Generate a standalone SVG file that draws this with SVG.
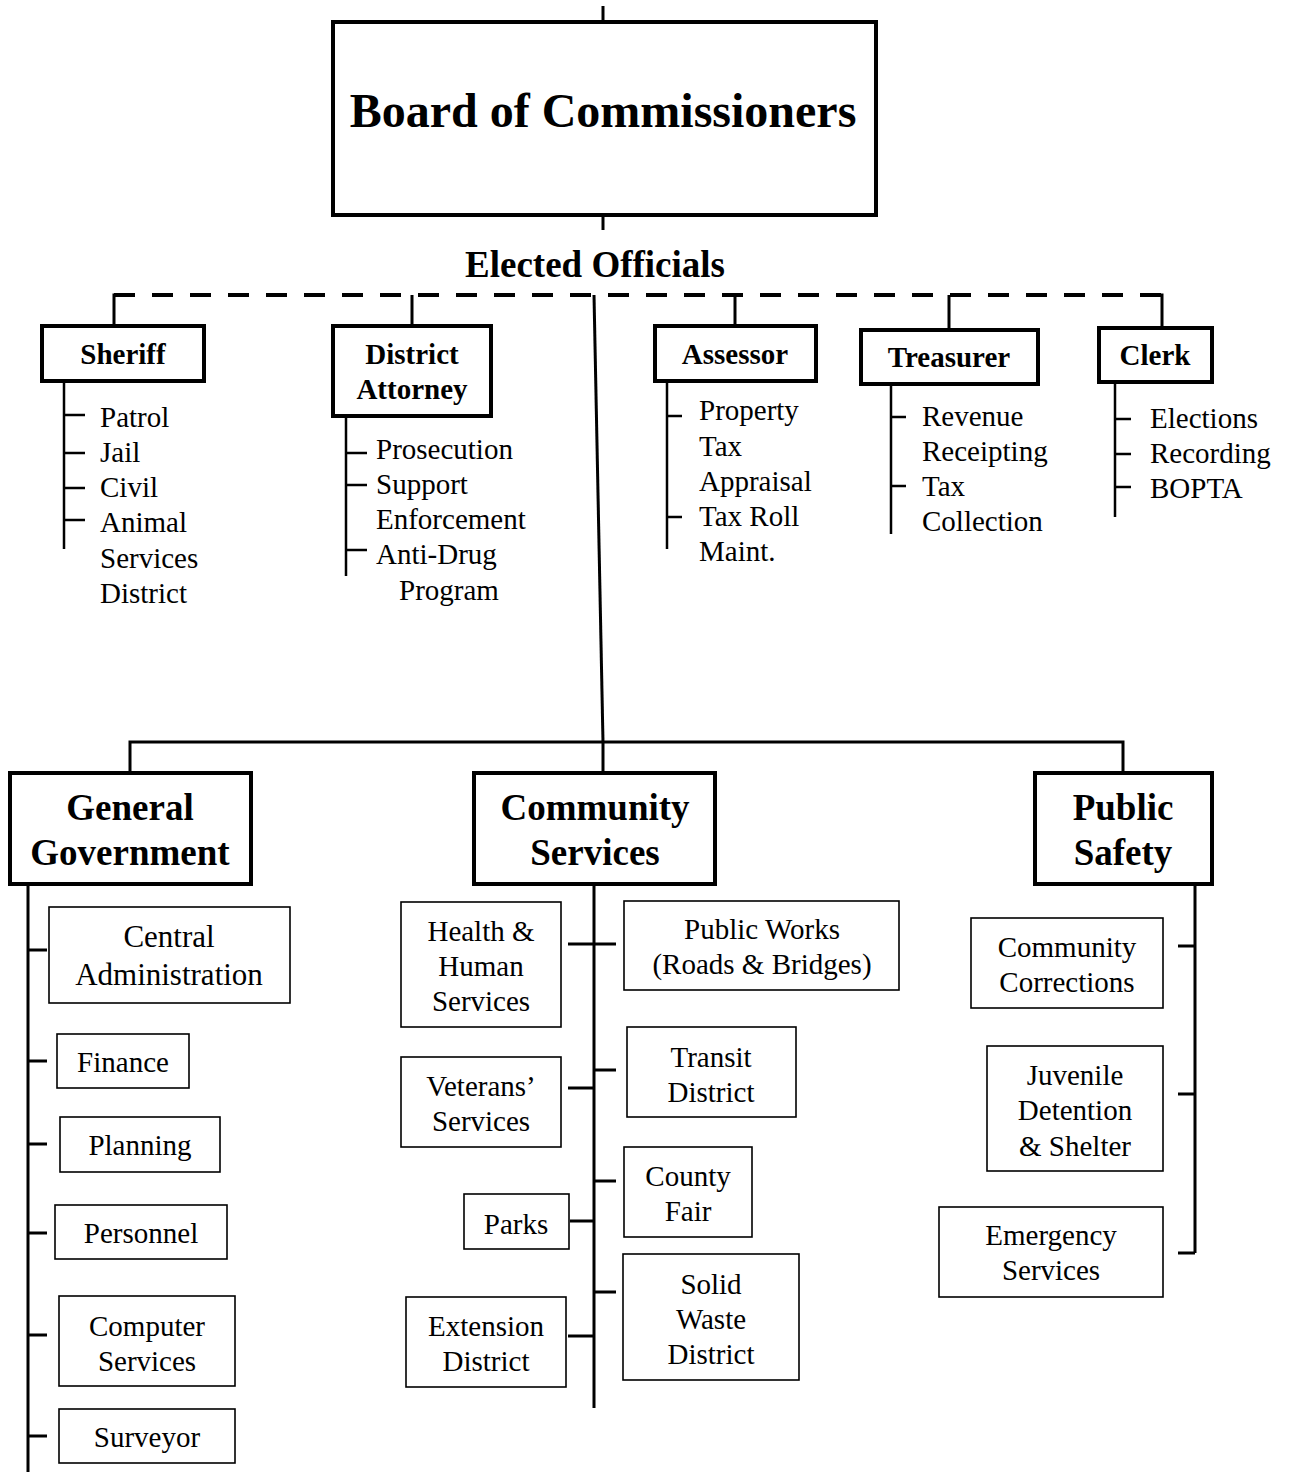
<svg xmlns="http://www.w3.org/2000/svg" width="1289" height="1472" viewBox="0 0 1289 1472">
<style>
text{font-family:"Liberation Serif","Times New Roman",serif;fill:#000}
.b{font-weight:bold}
.m{text-anchor:middle}
.t29{font-size:29px}
.t31{font-size:31px}
.h29{font-size:29px;font-weight:bold}
.h37{font-size:37px;font-weight:bold}
.box4{fill:#fff;stroke:#000;stroke-width:4}
.box1{fill:#fff;stroke:#000;stroke-width:1.6}
.ln{stroke:#000;stroke-width:3;fill:none}
.ln2{stroke:#000;stroke-width:2.5;fill:none}
.dash{stroke:#000;stroke-width:4;fill:none;stroke-dasharray:21 17}
</style>
<rect width="1289" height="1472" fill="#fff"/>
<g id="connectors">
<line class="ln" x1="603" y1="6" x2="603" y2="22"/>
<line class="ln" x1="603" y1="215" x2="603" y2="230"/>
<path class="dash" d="M114 295 H1162"/>
<path class="ln" d="M114 327 V295 H124"/>
<path class="ln" d="M1150 295 H1162 V328"/>
<line class="ln" x1="412" y1="295" x2="412" y2="326"/>
<line class="ln" x1="735" y1="295" x2="735" y2="326"/>
<line class="ln" x1="949" y1="295" x2="949" y2="329"/>
<line class="ln" x1="594" y1="295" x2="603" y2="742"/>
<line class="ln" x1="603" y1="742" x2="603" y2="773"/>
<path class="ln" d="M130 773 V742 H1123 V773"/>
<!-- Sheriff list -->
<path class="ln2" d="M64 382 V549 M64 415 H85 M64 453 H85 M64 488 H85 M64 520 H85"/>
<!-- DA list -->
<path class="ln2" d="M346 417 V576 M346 453 H367 M346 485 H367 M346 550 H367"/>
<!-- Assessor list -->
<path class="ln2" d="M667 382 V549 M667 416 H682 M667 517 H682"/>
<!-- Treasurer list -->
<path class="ln2" d="M891 385 V534 M891 417 H906 M891 486 H906"/>
<!-- Clerk list -->
<path class="ln2" d="M1115 384 V517 M1115 419 H1131 M1115 454 H1131 M1115 487 H1131"/>
<!-- General Government -->
<path class="ln" d="M28 884 V1472 M28 950 H47 M28 1061 H47 M28 1144 H47 M28 1233 H47 M28 1335 H47 M28 1436 H47"/>
<!-- Community Services -->
<path class="ln" d="M594 884 V1408 M568 944 H616 M568 1088 H594 M594 1070 H616 M594 1181 H616 M570 1221 H594 M594 1292 H616 M568 1336 H594"/>
<!-- Public Safety -->
<path class="ln" d="M1195 884 V1253 M1178 946 H1195 M1178 1094 H1195 M1178 1253 H1195"/>
</g>
<g id="board"><rect class="box4" x="333" y="22" width="543" height="193"/><text class="b m" x="603" y="127" font-size="48">Board of Commissioners</text></g>
<g id="elected"><text class="b m" x="595" y="277" font-size="37">Elected Officials</text></g>
<g id="sheriff"><rect class="box4" x="42" y="326" width="162" height="55"/><text class="h29 m" x="123" y="364">Sheriff</text>
<text class="t29" x="100" y="427">Patrol</text><text class="t29" x="100" y="462">Jail</text><text class="t29" x="100" y="497">Civil</text><text class="t29" x="100" y="532">Animal</text><text class="t29" x="100" y="568">Services</text><text class="t29" x="100" y="603">District</text></g>
<g id="da"><rect class="box4" x="333" y="326" width="158" height="90"/><text class="h29 m" x="412" y="364">District</text><text class="h29 m" x="412" y="399">Attorney</text>
<text class="t29" x="376" y="459">Prosecution</text><text class="t29" x="376" y="494">Support</text><text class="t29" x="376" y="529">Enforcement</text><text class="t29" x="376" y="564">Anti-Drug</text><text class="t29" x="399" y="600">Program</text></g>
<g id="assessor"><rect class="box4" x="655" y="326" width="161" height="55"/><text class="h29 m" x="735" y="364">Assessor</text>
<text class="t29" x="699" y="420">Property</text><text class="t29" x="699" y="456">Tax</text><text class="t29" x="699" y="491">Appraisal</text><text class="t29" x="699" y="526">Tax Roll</text><text class="t29" x="699" y="561">Maint.</text></g>
<g id="treasurer"><rect class="box4" x="861" y="330" width="177" height="54"/><text class="h29 m" x="949" y="367">Treasurer</text>
<text class="t29" x="922" y="426">Revenue</text><text class="t29" x="922" y="461">Receipting</text><text class="t29" x="922" y="496">Tax</text><text class="t29" x="922" y="531">Collection</text></g>
<g id="clerk"><rect class="box4" x="1099" y="328" width="113" height="54"/><text class="h29 m" x="1155" y="365">Clerk</text>
<text class="t29" x="1150" y="428">Elections</text><text class="t29" x="1150" y="463">Recording</text><text class="t29" x="1150" y="498">BOPTA</text></g>
<g id="general-government"><rect class="box4" x="10" y="773" width="241" height="111"/><text class="h37 m" x="130" y="820">General</text><text class="h37 m" x="130" y="865">Government</text></g>
<g id="central-admin"><rect class="box1" x="49" y="907" width="241" height="96"/><text class="t31 m" x="169" y="947">Central</text><text class="t31 m" x="169" y="985">Administration</text></g>
<g id="finance"><rect class="box1" x="57" y="1034" width="132" height="54"/><text class="t29 m" x="123" y="1072">Finance</text></g>
<g id="planning"><rect class="box1" x="60" y="1117" width="160" height="55"/><text class="t29 m" x="140" y="1155">Planning</text></g>
<g id="personnel"><rect class="box1" x="55" y="1205" width="172" height="54"/><text class="t29 m" x="141" y="1243">Personnel</text></g>
<g id="computer-services"><rect class="box1" x="59" y="1296" width="176" height="90"/><text class="t29 m" x="147" y="1336">Computer</text><text class="t29 m" x="147" y="1371">Services</text></g>
<g id="surveyor"><rect class="box1" x="59" y="1409" width="176" height="54"/><text class="t29 m" x="147" y="1447">Surveyor</text></g>
<g id="community-services"><rect class="box4" x="474" y="773" width="241" height="111"/><text class="h37 m" x="595" y="820">Community</text><text class="h37 m" x="595" y="865">Services</text></g>
<g id="hhs"><rect class="box1" x="401" y="902" width="160" height="125"/><text class="t29 m" x="481" y="941">Health &amp;</text><text class="t29 m" x="481" y="976">Human</text><text class="t29 m" x="481" y="1011">Services</text></g>
<g id="public-works"><rect class="box1" x="624" y="901" width="275" height="89"/><text class="t29 m" x="762" y="939">Public Works</text><text class="t29 m" x="762" y="974">(Roads &amp; Bridges)</text></g>
<g id="veterans"><rect class="box1" x="401" y="1057" width="160" height="90"/><text class="t29 m" x="481" y="1096">Veterans’</text><text class="t29 m" x="481" y="1131">Services</text></g>
<g id="transit"><rect class="box1" x="627" y="1027" width="169" height="90"/><text class="t29 m" x="711" y="1067">Transit</text><text class="t29 m" x="711" y="1102">District</text></g>
<g id="county-fair"><rect class="box1" x="624" y="1147" width="128" height="90"/><text class="t29 m" x="688" y="1186">County</text><text class="t29 m" x="688" y="1221">Fair</text></g>
<g id="parks"><rect class="box1" x="464" y="1194" width="105" height="55"/><text class="t29 m" x="516" y="1234">Parks</text></g>
<g id="solid-waste"><rect class="box1" x="623" y="1254" width="176" height="126"/><text class="t29 m" x="711" y="1294">Solid</text><text class="t29 m" x="711" y="1329">Waste</text><text class="t29 m" x="711" y="1364">District</text></g>
<g id="extension"><rect class="box1" x="406" y="1297" width="160" height="90"/><text class="t29 m" x="486" y="1336">Extension</text><text class="t29 m" x="486" y="1371">District</text></g>
<g id="public-safety"><rect class="box4" x="1035" y="773" width="177" height="111"/><text class="h37 m" x="1123" y="820">Public</text><text class="h37 m" x="1123" y="865">Safety</text></g>
<g id="community-corrections"><rect class="box1" x="971" y="918" width="192" height="90"/><text class="t29 m" x="1067" y="957">Community</text><text class="t29 m" x="1067" y="992">Corrections</text></g>
<g id="juvenile"><rect class="box1" x="987" y="1046" width="176" height="125"/><text class="t29 m" x="1075" y="1085">Juvenile</text><text class="t29 m" x="1075" y="1120">Detention</text><text class="t29 m" x="1075" y="1156">&amp; Shelter</text></g>
<g id="emergency"><rect class="box1" x="939" y="1207" width="224" height="90"/><text class="t29 m" x="1051" y="1245">Emergency</text><text class="t29 m" x="1051" y="1280">Services</text></g>
</svg>
